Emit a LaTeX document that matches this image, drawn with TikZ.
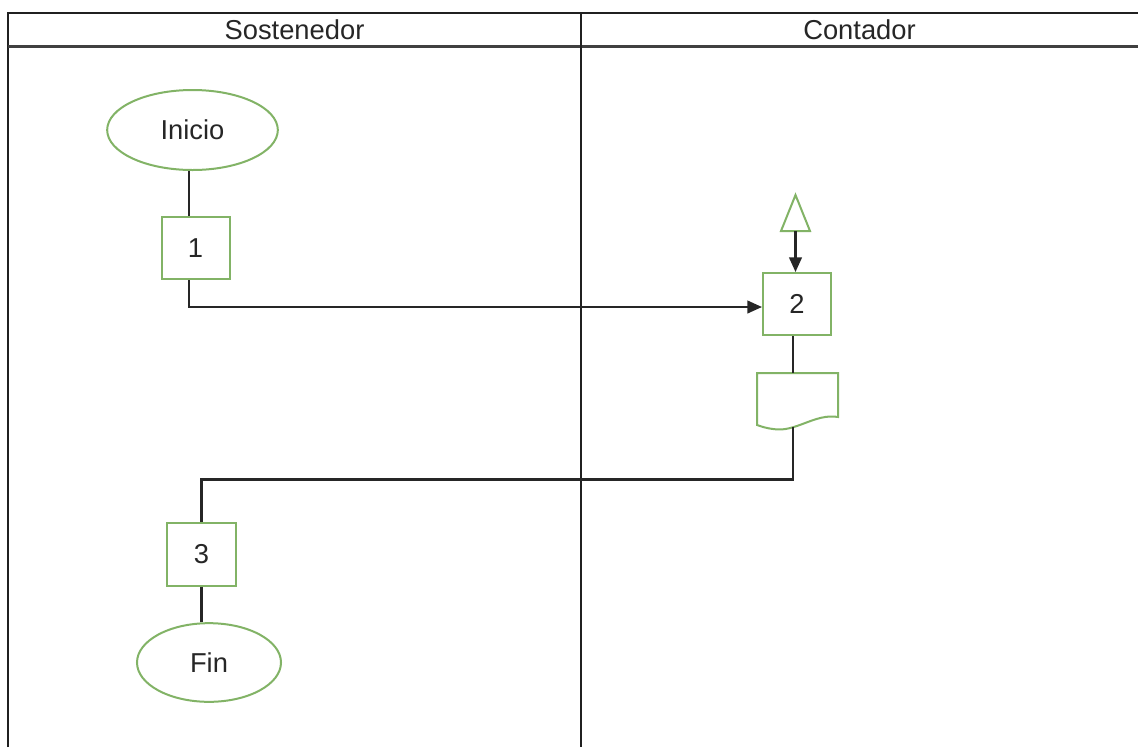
\documentclass[tikz,border=0pt]{standalone}
\usepackage{fontspec}
\setmainfont{Liberation Sans}
\usetikzlibrary{shapes.geometric,arrows.meta}
\definecolor{stepgreen}{HTML}{82B366}
\definecolor{laneline}{HTML}{202020}
\begin{document}
\begin{tikzpicture}[x=0.75pt,y=-0.75pt,
  lane/.style={draw=laneline,line width=1.5pt},
  txt/.style={font=\fontsize{20.5}{24}\selectfont,text=black!85},
  terminal/.style={draw=stepgreen,line width=1.5pt,ellipse,fill=white,txt},
  stepbox/.style={draw=stepgreen,line width=1.5pt,rectangle,fill=white,txt,
                  minimum width=51pt,minimum height=46.5pt,inner sep=0pt},
  flow/.style={draw=black!85,line width=1.6pt},
  tip/.style={-{Triangle[length=11pt,width=9.5pt]}}]
\useasboundingbox (0,0) rectangle (1138,747);

% swimlane frame
\draw[lane] (8,747) -- (8,13) -- (1138,13);
\draw[lane,line width=2pt,draw=black!75] (8,46.5) -- (1138,46.5);
\draw[lane] (581,13) -- (581,747);
\node[txt] (laneA) at (294.5,29.5) {Sostenedor};
\node[txt] (laneB) at (859.5,29.5) {Contador};

% Sostenedor lane
\node[terminal,minimum width=128pt,minimum height=60pt] (inicio) at (192.5,130) {Inicio};
\node[stepbox] (s1) at (195.5,248) {1};
\node[stepbox,minimum width=52pt,minimum height=47pt] (s3) at (201.5,554.5) {3};
\node[terminal,minimum width=108pt,minimum height=59pt] (fin) at (209,662.5) {Fin};

% Contador lane
\node[stepbox] (s2) at (797,304) {2};
\draw[draw=stepgreen,line width=1.5pt,fill=white]
  (795.5,195) -- (810,231) -- (781,231) -- cycle;
\coordinate (tri) at (795.5,231);
\draw[draw=stepgreen,line width=1.5pt,fill=white]
  (757,373) -- (838,373) -- (838,417)
  .. controls (815,413) and (795,433) .. (773,429)
  .. controls (765,428) and (760,426) .. (757,425) -- cycle;
\coordinate (doctop) at (793,373);
\coordinate (docbot) at (793,427);

% connectors
\draw[flow] (inicio.south -| 189,0) -- (s1.north -| 189,0);
\draw[flow,tip] (s1.south -| 189,0) |- ([yshift=-2.25pt]s2.west);
\draw[flow,tip] (tri) -- (s2.north -| tri);
\draw[flow] (s2.south -| doctop) -- (doctop);
\draw[flow] (docbot) -- (793,479.5) -| (s3.north);
\draw[flow] (s3.south) -- (fin.north -| s3.south);
\end{tikzpicture}
\end{document}
